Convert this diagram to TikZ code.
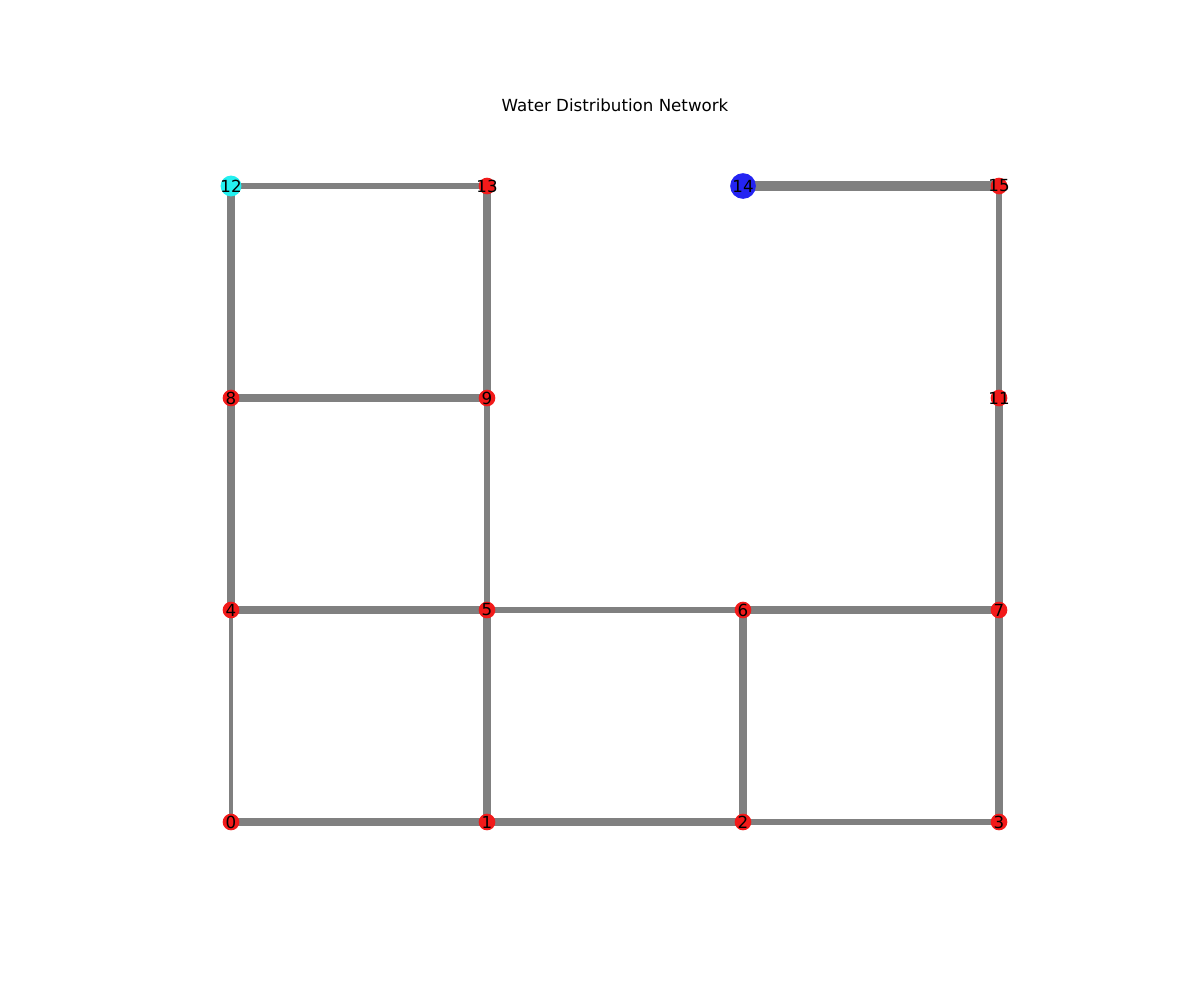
\documentclass[tikz,border=0pt]{standalone}
\usepackage{fontspec}
\setmainfont{DejaVu Sans}
\usetikzlibrary{backgrounds}
\definecolor{pipe}{HTML}{808080}
\definecolor{junc}{HTML}{F21A1A}
\definecolor{tank}{HTML}{2424F2}
\definecolor{resv}{HTML}{24F0F0}
\newcommand{\nlab}[1]{\makebox[0pt]{#1}}
\tikzset{
  pipeline/.style={draw=pipe, line cap=butt},
  jn/.style={circle, fill=junc, inner sep=0pt, minimum size=12pt, font=\fontsize{12}{14}\selectfont},
  tk/.style={circle, fill=tank, inner sep=0pt, minimum size=18.5pt, font=\fontsize{12}{14}\selectfont},
  rv/.style={circle, fill=resv, inner sep=0pt, minimum size=15pt, font=\fontsize{12}{14}\selectfont},
}
\begin{document}
\begin{tikzpicture}[x=0.72pt, y=-0.72pt]
\useasboundingbox (0,0) rectangle (1200,1000);
\node[font=\fontsize{12}{14}\selectfont] (title) at (615,105) {Water Distribution Network};
\node[jn] (n0) at (231,822) {\nlab{0}};
\node[jn] (n1) at (487,822) {\nlab{1}};
\node[jn] (n2) at (743,822) {\nlab{2}};
\node[jn] (n3) at (999,822) {\nlab{3}};
\node[jn] (n4) at (231,610) {\nlab{4}};
\node[jn] (n5) at (487,610) {\nlab{5}};
\node[jn] (n6) at (743,610) {\nlab{6}};
\node[jn] (n7) at (999,610) {\nlab{7}};
\node[jn] (n8) at (231,398) {\nlab{8}};
\node[jn] (n9) at (487,398) {\nlab{9}};
\node[jn] (n11) at (999,398) {\nlab{11}};
\node[rv] (n12) at (231,186) {\nlab{12}};
\node[jn] (n13) at (487,186) {\nlab{13}};
\node[tk] (n14) at (743,186) {\nlab{14}};
\node[jn] (n15) at (999,186) {\nlab{15}};
\begin{pgfonlayer}{background}
\draw[pipeline, line width=5.2pt] (n0.center) -- (n1.center);
\draw[pipeline, line width=5.2pt] (n1.center) -- (n2.center);
\draw[pipeline, line width=3.8pt] (n2.center) -- (n3.center);
\draw[pipeline, line width=3.0pt] (n4.center) -- (n0.center);
\draw[pipeline, line width=5.2pt] (n5.center) -- (n1.center);
\draw[pipeline, line width=5.2pt] (n6.center) -- (n2.center);
\draw[pipeline, line width=5.2pt] (n7.center) -- (n3.center);
\draw[pipeline, line width=6.0pt] (n4.center) -- (n5.center);
\draw[pipeline, line width=4.8pt] (n5.center) -- (n6.center);
\draw[pipeline, line width=5.6pt] (n6.center) -- (n7.center);
\draw[pipeline, line width=6.0pt] (n8.center) -- (n4.center);
\draw[pipeline, line width=3.8pt] (n9.center) -- (n5.center);
\draw[pipeline, line width=6.0pt] (n11.center) -- (n7.center);
\draw[pipeline, line width=6.2pt] (n8.center) -- (n9.center);
\draw[pipeline, line width=5.2pt] (n12.center) -- (n8.center);
\draw[pipeline, line width=5.2pt] (n13.center) -- (n9.center);
\draw[pipeline, line width=3.8pt] (n15.center) -- (n11.center);
\draw[pipeline, line width=4.4pt] (n12.center) -- (n13.center);
\draw[pipeline, line width=6.6pt] (n14.center) -- (n15.center);
\end{pgfonlayer}
\end{tikzpicture}
\end{document}
